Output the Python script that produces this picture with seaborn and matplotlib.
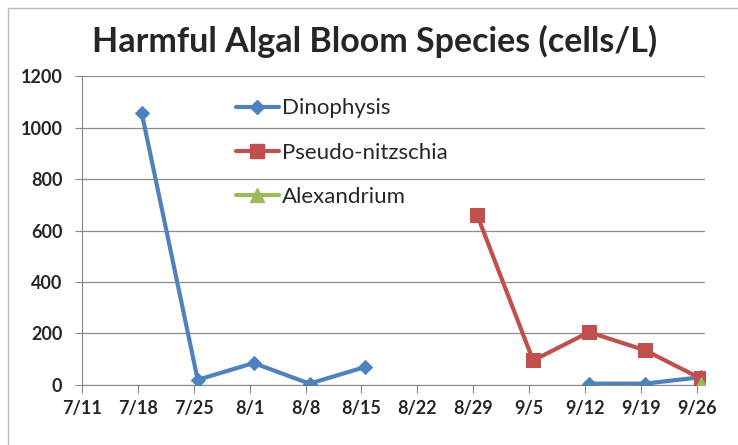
import pandas as pd
import numpy as np
import matplotlib.pyplot as plt
import seaborn as sns

# sample dates and counts (cells/L)
dino_dates = ["2013-07-18", "2013-07-25", "2013-08-01", "2013-08-08", "2013-08-15",
              "2013-09-12", "2013-09-19", "2013-09-26"]
dino_cells = [1055, 20, 85, 5, 70, 5, 5, 30]
dino_run = [0, 0, 0, 0, 0, 1, 1, 1]

pseudo_dates = ["2013-08-29", "2013-09-05", "2013-09-12", "2013-09-19", "2013-09-26"]
pseudo_cells = [660, 95, 205, 135, 25]

alex_dates = ["2013-09-26"]
alex_cells = [5]

tick_labels = ["7/11", "7/18", "7/25", "8/1", "8/8", "8/15", "8/22", "8/29",
               "9/5", "9/12", "9/19", "9/26"]

species = ["Dinophysis", "Pseudo-nitzschia", "Alexandrium"]
colors = {"Dinophysis": "#4F81BD", "Pseudo-nitzschia": "#C0504D", "Alexandrium": "#9BBB59"}
markers = {"Dinophysis": "D", "Pseudo-nitzschia": "s", "Alexandrium": "^"}
msizes = {"Dinophysis": 7, "Pseudo-nitzschia": 10, "Alexandrium": 10}

df = pd.concat([
    pd.DataFrame({"date": pd.to_datetime(dino_dates), "cells": dino_cells,
                  "species": "Dinophysis", "run": dino_run}),
    pd.DataFrame({"date": pd.to_datetime(pseudo_dates), "cells": pseudo_cells,
                  "species": "Pseudo-nitzschia", "run": 0}),
    pd.DataFrame({"date": pd.to_datetime(alex_dates), "cells": alex_cells,
                  "species": "Alexandrium", "run": 0}),
], ignore_index=True)
# Excel date axis plots each point in the middle of its day
df["day_mid"] = df["date"] + pd.Timedelta(hours=12)

sns.set_style("white")
plt.rcParams["font.family"] = ["Lato", "DejaVu Sans"]

fig = plt.figure(figsize=(7.38, 4.45), dpi=100)
ax = fig.add_axes([0.111, 0.135, 0.844, 0.694])

handles = []
for sp in species:
    sub = df[df["species"] == sp]
    sns.lineplot(data=sub, x="day_mid", y="cells", units="run", estimator=None,
                 color=colors[sp], marker=markers[sp], markersize=msizes[sp],
                 markeredgecolor=colors[sp], linewidth=3, ax=ax, zorder=3)
    h, = ax.plot([], [], color=colors[sp], marker=markers[sp],
                 markersize=msizes[sp], linewidth=3, markeredgecolor=colors[sp])
    handles.append(h)

tick_dates = pd.to_datetime(["2013-" + t.replace("/", "-") for t in tick_labels],
                            format="%Y-%m-%d")
ax.set_xticks(tick_dates)
ax.set_xticklabels(tick_labels, fontsize=13, fontweight="bold")
ax.set_xlim(tick_dates[0], tick_dates[-1] + pd.Timedelta(days=1))
ax.set_ylim(0, 1200)
ax.set_yticks(np.arange(0, 1201, 200))
ax.tick_params(axis="y", labelsize=13, length=5, color="#888888", direction="out",
               left=True, pad=9)
ax.tick_params(axis="x", length=6, color="#888888", direction="out", bottom=True, pad=5)
for lab in ax.get_yticklabels():
    lab.set_fontweight("bold")
ax.grid(axis="y", color="#8c8c8c", linewidth=0.9)
ax.set_axisbelow(True)
for s in ["top", "right"]:
    ax.spines[s].set_visible(False)
for s in ["left", "bottom"]:
    ax.spines[s].set_color("#888888")
ax.set_xlabel("")
ax.set_ylabel("")

leg = ax.legend(handles, species, loc="upper left", bbox_to_anchor=(0.247, 0.928),
                frameon=False, fontsize=16, handlelength=1.95, handletextpad=0.15,
                labelspacing=1.1, borderpad=0, borderaxespad=0)

fig.suptitle("Harmful Algal Bloom Species (cells/L)", x=0.508, y=0.945,
             fontsize=24.5, fontweight="bold")

fig.patches.append(plt.Rectangle((0.011, -0.05), 1.1, 1.033, transform=fig.transFigure,
                                 fill=False, edgecolor="#bbbbbb", linewidth=1))

fig.savefig("out.png", dpi=100)
